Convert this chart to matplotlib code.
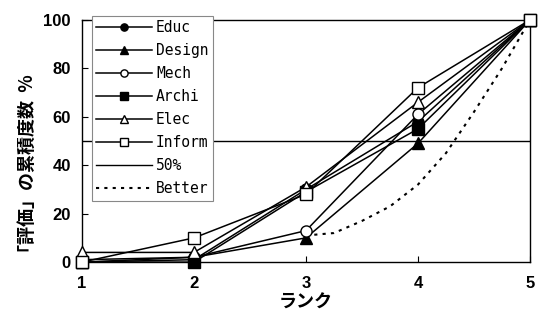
import matplotlib
matplotlib.use("Agg")
import matplotlib.pyplot as plt

ranks = [1, 2, 3, 4, 5]
educ = [0, 1, 30, 58, 100]
design = [0, 2, 10, 49, 100]
mech = [1, 2, 13, 61, 100]
archi = [0, 0, 29, 55, 100]
elec = [4, 4, 31, 66, 100]
inform = [0, 10, 28, 72, 100]
better_x = [3, 3.25, 3.5, 3.75, 4, 4.25, 4.5, 4.75, 5]
better_y = [11, 12, 17, 23, 32, 45, 62, 80, 100]
half_x = [1, 5]
half_y = [50, 50]

plt.rcParams['font.family'] = ['Liberation Sans Narrow', 'Liberation Sans', 'Noto Sans CJK JP']

fig = plt.figure(figsize=(5.43, 3.26), dpi=100)
ax = fig.add_axes([0.151, 0.196, 0.825, 0.743])

series = [
    ("Educ", educ, "o", "black"),
    ("Design", design, "^", "black"),
    ("Mech", mech, "o", "white"),
    ("Archi", archi, "s", "black"),
    ("Elec", elec, "^", "white"),
    ("Inform", inform, "s", "white"),
]
for name, vals, mk, fc in series:
    ax.plot(ranks, vals, color="black", lw=1.1, marker=mk, markersize=8,
            markerfacecolor=fc, markeredgecolor="black", markeredgewidth=1.0,
            label=name, clip_on=False, zorder=3)

ax.plot(half_x, half_y, color="black", lw=1.0, label="50%")
ax.plot(better_x, better_y, color="black", lw=1.5, linestyle=(0, (1.5, 2.5)), label="Better")

ax.set_xlim(1, 5)
ax.set_ylim(0, 100)
ax.set_xticks(ranks)
ax.set_yticks([0, 20, 40, 60, 80, 100])
ax.tick_params(direction="in", length=4, labelsize=12)
for lbl in ax.get_xticklabels() + ax.get_yticklabels():
    lbl.set_fontweight("bold")
ax.tick_params(axis="x", pad=10)
ax.tick_params(axis="y", pad=8)
for sp in ax.spines.values():
    sp.set_linewidth(1.0)

ax.set_xlabel("ランク", fontsize=13, fontweight="bold", family=["Noto Sans CJK JP"], labelpad=1)
fig.text(27 / 543, 1 - 168 / 326, "「評価」の累積度数  %", rotation=90, ha="center", va="center",
         fontsize=13, fontweight="bold", family=["Noto Sans CJK JP", "DejaVu Sans"])

leg = ax.legend(loc="upper left", bbox_to_anchor=(0.022, 1.017), borderaxespad=0,
                prop={"family": "DejaVu Sans Mono", "size": 10.5}, markerscale=0.65,
                handlelength=3.8, handletextpad=0.3, labelspacing=0.55,
                fancybox=False, framealpha=1, edgecolor="#888888", borderpad=0.3)
leg.get_frame().set_linewidth(0.8)
leg.set_zorder(5)

fig.savefig("out.png", dpi=100)
